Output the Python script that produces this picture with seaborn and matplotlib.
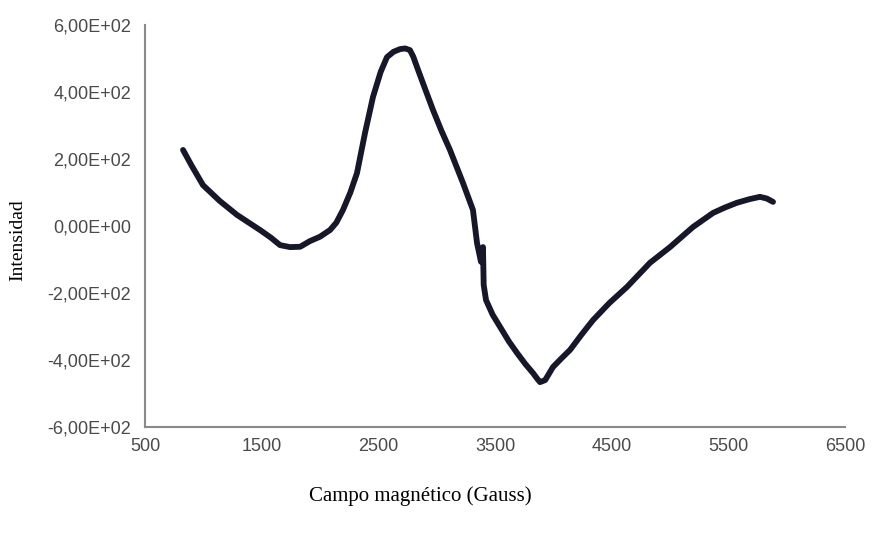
import matplotlib
matplotlib.use("Agg")
import matplotlib.pyplot as plt
import seaborn as sns
import pandas as pd

# Data (field in Gauss, intensity)
campo = [826, 900, 997, 1140, 1289, 1486, 1580, 1657, 1743, 1830, 1914, 2000,
         2086, 2140, 2197, 2260, 2317, 2386, 2454, 2520, 2574, 2630, 2686, 2730,
         2771, 2800, 2831, 2900, 2969, 3040, 3114, 3226, 3311, 3346, 3380, 3397,
         3403, 3423, 3480, 3543, 3620, 3689, 3760, 3826, 3860, 3886, 3930, 3997,
         4070, 4143, 4240, 4340, 4480, 4631, 4828, 5000, 5197, 5369, 5470, 5571,
         5680, 5771, 5830, 5883]
intensidad = [227, 180, 122, 75, 33, -12, -35, -57, -63, -62, -45, -32,
              -12, 10, 48, 100, 158, 278, 385, 460, 504, 520, 528, 530,
              525, 505, 475, 410, 346, 285, 227, 128, 48, -51, -107, -63,
              -176, -221, -265, -301, -345, -379, -412, -439, -455, -466, -460, -421,
              -395, -370, -325, -281, -230, -182, -110, -63, -3, 39, 55, 69,
              80, 87, 82, 72]

x_ticks = [500, 1500, 2500, 3500, 4500, 5500, 6500]
y_ticks = [-600, -400, -200, 0, 200, 400, 600]
y_tick_labels = ["-6,00E+02", "-4,00E+02", "-2,00E+02", "0,00E+00",
                 "2,00E+02", "4,00E+02", "6,00E+02"]

df = pd.DataFrame({"campo": campo, "intensidad": intensidad})

sns.set_theme(style="white")
plt.rcParams["font.family"] = ["Liberation Sans Narrow", "Liberation Sans", "DejaVu Sans"]

fig = plt.figure(figsize=(8.73, 5.35), dpi=100)
ax = fig.add_axes([145/873, 1 - 427/535, 700/873, 402/535])

sns.lineplot(data=df, x="campo", y="intensidad", sort=False, ax=ax,
             color="#17172a", lw=4.2, solid_capstyle="round", solid_joinstyle="round")

ax.set_xlim(500, 6500)
ax.set_ylim(-600, 600)
ax.set_xticks(x_ticks)
ax.set_xticklabels([str(v) for v in x_ticks])
ax.set_yticks(y_ticks)
ax.set_yticklabels(y_tick_labels)

for s in ["top", "right"]:
    ax.spines[s].set_visible(False)
for s in ["left", "bottom"]:
    ax.spines[s].set_color("#8a8a8a")
    ax.spines[s].set_linewidth(1.5)

ax.tick_params(axis="both", which="major", direction="out", length=5, width=1.2,
               color="#8a8a8a", labelcolor="#4a4a4a", labelsize=13)
ax.tick_params(axis="x", pad=3)
ax.tick_params(axis="y", pad=5)

ax.set_xlabel("")
ax.set_ylabel("")

fig.text(420/873, 1 - 496/535, "Campo magnético (Gauss)", ha="center", va="center",
         fontsize=15, family=["Liberation Serif", "DejaVu Serif"], color="black")
fig.text(18/873, 1 - 240/535, "Intensidad", ha="center", va="center", rotation=90,
         fontsize=14, family=["Liberation Serif", "DejaVu Serif"], color="black")

fig.savefig("out.png", dpi=100, facecolor="white")
